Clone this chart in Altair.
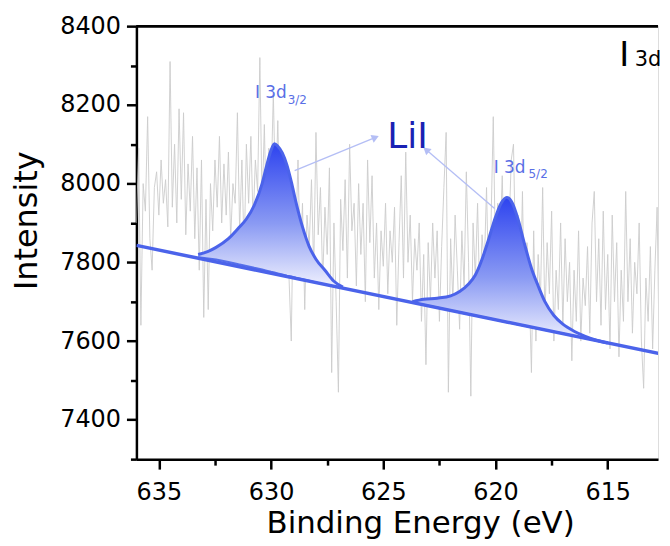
import altair as alt
import pandas as pd

# ---------------- data ----------------
raw_intensity = [
    7900, 8090, 7640, 8000, 7930, 8170, 7860, 7780, 7990, 8030,
    7920, 8060, 7950, 8010, 7890, 8310, 7940, 8100, 7900, 8190,
    7960, 8180, 7870, 8050, 7930, 8120, 7860, 8040, 7780, 8060,
    7660, 7960, 7680, 8000, 7880, 8060, 7940, 8120, 7900, 8050,
    7920, 8080, 7860, 8000, 7950, 8180, 7880, 8060, 7820, 8100,
    7950, 8120, 7900, 8060, 7980, 8320, 7940, 8150, 7880, 8090,
    7990, 8230, 7960, 8160, 7900, 8080, 7850, 8020, 7760, 7600,
    7990, 7860, 8060, 7800, 7950, 7680, 7920, 7840, 8010, 7780,
    8130, 7870, 7990, 7750, 7940, 7820, 8040, 7520, 7900, 7700,
    7470, 7960, 7830, 8010, 7760, 8100, 7880, 7950, 7740, 8000,
    7820, 7950, 7700, 8060, 7850, 8020, 7760, 7900, 7680, 7880,
    7790, 7950, 7720, 7880, 7800, 7940, 7640, 7850, 8020, 7760,
    8080, 7800, 7920, 7700, 7860, 7780, 7900, 7650, 7820, 7540,
    7850, 7700, 7900, 7760, 7880, 7650, 7840, 7990, 8130, 7470,
    7860, 7700, 7920, 7780, 7630, 7880, 7740, 8030, 7800, 7460,
    7900, 7760, 7950, 7700, 7870, 7790, 7990, 7720, 7900, 8170,
    7800, 7950, 7850, 8020, 7760, 7960, 7880, 8060, 8100, 7800,
    7920, 7700, 7980, 7640, 7850, 7740, 7520, 7880, 7600, 7820,
    7700, 7990, 7660, 7850, 7720, 7930, 7600, 7780, 7680, 7900,
    7640, 7860, 7700, 7800, 7550, 7780, 7650, 7880, 7600, 7760,
    7690, 7840, 7620, 7900, 7980, 7700, 7860, 7640, 7930, 7680,
    7820, 7580, 7920, 7700, 7850, 7560, 7780, 7650, 7980, 7700,
    7860, 7620, 7800, 7720, 7900, 7600, 7480, 7760, 7650, 7840,
    7580, 7780, 7940, 7540, 7760, 7640, 7820, 7600, 7740, 7580,
]
raw_energy = [round(636.0 - 0.1 * i, 1) for i in range(len(raw_intensity))]

baseline_energy = [636.0, 612.0]
baseline_intensity = [7843, 7560]

p1_energy = [633.25, 632.8, 632.45, 631.9, 631.45, 631.1, 630.75, 630.4, 630.2, 630.0, 629.85,
             629.7, 629.5, 629.3, 629.1, 628.9, 628.6, 628.3, 628.0, 627.6, 627.2, 626.8]
p1_top = [7820, 7828, 7838, 7860, 7887, 7910, 7945, 8000, 8045, 8085, 8101,
          8095, 8078, 8048, 8005, 7955, 7890, 7840, 7808, 7780, 7752, 7737]
p1_bottom = [7813, 7810, 7807, 7801, 7795, 7791, 7786, 7782, 7779, 7776, 7774,
             7772, 7769, 7766, 7764, 7761, 7757, 7753, 7749, 7744, 7739, 7734]

p2_energy = [623.7, 623.2, 622.6, 622.0, 621.6, 621.2, 620.9, 620.6, 620.3, 620.0, 619.75, 619.5,
             619.25, 619.0, 618.7, 618.4, 618.1, 617.8, 617.4, 617.0, 616.5, 616.0, 615.5, 615.0]
p2_top = [7700, 7706, 7709, 7715, 7726, 7745, 7768, 7808, 7860, 7915, 7950, 7965,
          7950, 7910, 7845, 7785, 7740, 7700, 7665, 7643, 7625, 7612, 7602, 7595]
p2_bottom = [7698, 7692, 7685, 7678, 7673, 7668, 7665, 7661, 7658, 7654, 7651, 7648,
             7645, 7642, 7639, 7635, 7632, 7628, 7624, 7619, 7613, 7607, 7601, 7595]

label_text = ["I 3d", "3/2", "LiI", "I 3d", "5/2"]
label_energy = [630.72, 629.26, 624.82, 620.08, 618.53]
label_intensity = [8218, 8203, 8091, 8028, 8015]
label_size = [17, 12, 36, 17, 12]
label_color = ["#5a6fe6", "#5a6fe6", "#1a22b4", "#5a6fe6", "#5a6fe6"]

corner_text = ["I", "3d"]
corner_energy = [614.49, 613.8]
corner_intensity = [8299, 8299]
corner_size = [34, 21]

arrow_x = [628.95, 620.04]
arrow_y = [8033, 7937]
arrow_x2 = [625.4, 623.05]
arrow_y2 = [8116, 8084]
arrow_angle = [67.6, 310.5]

x_ticks = [635, 632.5, 630, 627.5, 625, 622.5, 620, 617.5, 615, 612.5]
y_ticks = [7300, 7400, 7500, 7600, 7700, 7800, 7900, 8000, 8100, 8200, 8300, 8400]

# ---------------- tables ----------------
raw_df = pd.DataFrame({"E": raw_energy, "I": raw_intensity})
base_df = pd.DataFrame({"E": baseline_energy, "I": baseline_intensity})
p1_df = pd.DataFrame({"E": p1_energy, "top": p1_top, "bot": p1_bottom})
p2_df = pd.DataFrame({"E": p2_energy, "top": p2_top, "bot": p2_bottom})
lab_df = pd.DataFrame({"t": label_text, "E": label_energy, "I": label_intensity,
                       "s": label_size, "c": label_color})
corner_df = pd.DataFrame({"t": corner_text, "E": corner_energy, "I": corner_intensity, "s": corner_size})
arrow_df = pd.DataFrame({"x": arrow_x, "y": arrow_y, "x2": arrow_x2, "y2": arrow_y2, "a": arrow_angle})

FONT = "DejaVu Sans"
xscale = alt.Scale(domain=[612.76, 636.0], reverse=True, nice=False, zero=False)
yscale = alt.Scale(domain=[7300, 8400], nice=False, zero=False)

xaxis = alt.Axis(
    values=x_ticks, grid=False,
    labelExpr="datum.value % 5 === 0 ? datum.label : ''",
    tickSize={"condition": {"test": "datum.value % 5 === 0", "value": 10}, "value": 6},
    labelFont=FONT, labelFontSize=24, labelColor="black", labelPadding=12,
    titleFont=FONT, titleFontSize=31, titleFontWeight="normal", titleColor="black",
    titlePadding=4, titleX=285,
    domainColor="black", domainWidth=2.5, tickColor="black", tickWidth=2.5,
    labelFlush=False, labelOverlap=False,
)
yaxis = alt.Axis(
    values=y_ticks, grid=False,
    labelExpr="datum.value % 200 === 0 ? datum.label : ''",
    tickSize={"condition": {"test": "datum.value % 200 === 0", "value": 10}, "value": 6},
    labelFont=FONT, labelFontSize=24, labelColor="black", labelPadding=6,
    titleFont=FONT, titleFontSize=32, titleFontWeight="normal", titleColor="black",
    titlePadding=16, titleY=195,
    domainColor="black", domainWidth=2.5, tickColor="black", tickWidth=2.5,
    labelFlush=False, labelOverlap=False, format="d",
)
XT = "Binding Energy (eV)"
YT = "Intensity"


def X(field):
    return alt.X(field, type="quantitative", scale=xscale, axis=xaxis, title=XT)


def Y(field):
    return alt.Y(field, type="quantitative", scale=yscale, axis=yaxis, title=YT)


raw_line = alt.Chart(raw_df).mark_line(color="#cbcbcb", strokeWidth=0.9, clip=True).encode(
    x=X("E"), y=Y("I"),
)

grad = alt.Gradient(
    gradient="linear",
    stops=[alt.GradientStop(color="#2d43ef", offset=0),
           alt.GradientStop(color="#8a9af3", offset=0.55),
           alt.GradientStop(color="#f2f3fe", offset=1)],
    x1=1, x2=1, y1=0, y2=1,
)


def peak_layers(df):
    area = alt.Chart(df).mark_area(color=grad, interpolate="monotone", clip=True).encode(
        x=X("E"), y=Y("top"), y2="bot:Q",
    )
    top = alt.Chart(df).mark_line(color="#4b63ea", strokeWidth=3, interpolate="monotone", clip=True).encode(
        x=X("E"), y=Y("top"),
    )
    bot = alt.Chart(df).mark_line(color="#5670ea", strokeWidth=2, clip=True).encode(
        x=X("E"), y=Y("bot"),
    )
    return area + bot + top


baseline = alt.Chart(base_df).mark_line(color="#4b63ea", strokeWidth=3.5, clip=True).encode(
    x=X("E"), y=Y("I"),
)

arrows = alt.Chart(arrow_df).mark_rule(color="#b4bef5", strokeWidth=1.3).encode(
    x=X("x"), y=Y("y"), x2="x2:Q", y2="y2:Q",
)
heads = alt.Chart(arrow_df).mark_point(shape="triangle", filled=True, color="#b4bef5",
                                        size=70, opacity=1).encode(
    x=X("x2"), y=Y("y2"), angle=alt.Angle("a:Q", scale=None),
)

labels = alt.Chart(lab_df).mark_text(align="left", baseline="alphabetic", font=FONT).encode(
    x=X("E"), y=Y("I"),
    text="t:N", size=alt.Size("s:Q", scale=None), color=alt.Color("c:N", scale=None),
)
corner = alt.Chart(corner_df).mark_text(align="left", baseline="alphabetic", font=FONT,
                                         color="black").encode(
    x=X("E"), y=Y("I"),
    text="t:N", size=alt.Size("s:Q", scale=None),
)

top_border = alt.Chart(base_df).mark_rule(color="black", strokeWidth=2.5).encode(
    y=alt.datum(8400, scale=yscale, axis=yaxis, title=YT),
)

chart = alt.layer(
    raw_line, peak_layers(p1_df), peak_layers(p2_df), baseline, arrows, heads, labels, corner, top_border
).properties(
    width=524, height=435,
    padding={"left": 2, "top": 5, "right": 0, "bottom": 0},
).configure_view(stroke=None).configure(background="white")

chart.save("out.html", embed_options={"renderer": "svg", "actions": False})
